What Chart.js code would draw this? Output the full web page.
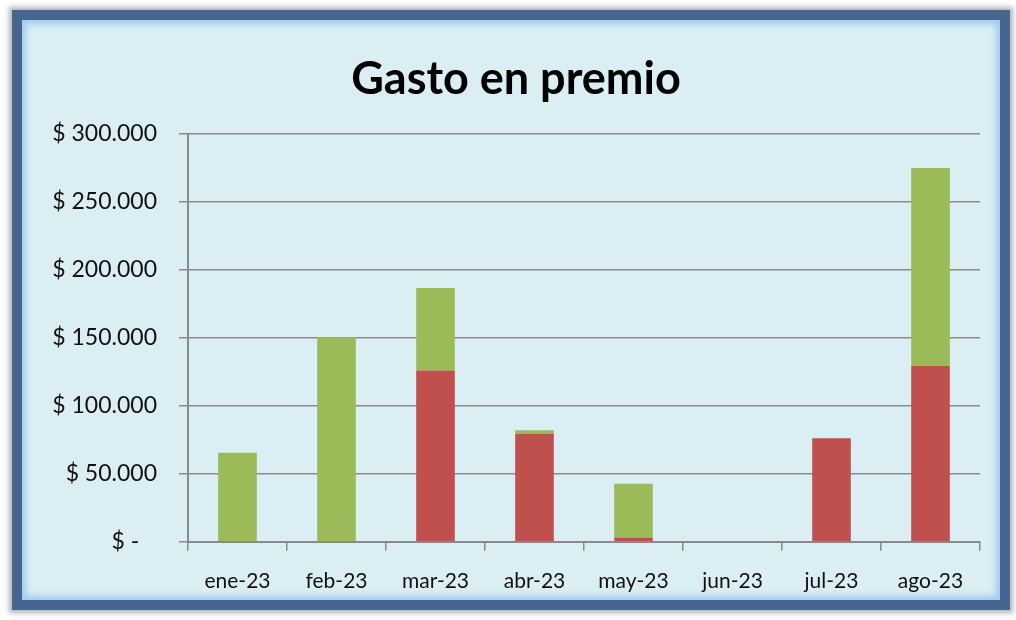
<!DOCTYPE html>
<html>
<head>
<meta charset="utf-8">
<script src="https://cdn.jsdelivr.net/npm/chart.js@4.4.1/dist/chart.umd.min.js"></script>
<style>
  html, body { margin: 0; padding: 0; background: #ffffff; width: 1016px; height: 620px; overflow: hidden; }
  #frame {
    position: absolute; left: 12px; top: 10px; width: 978px; height: 580px;
    border: 10px solid #46658f;
    background: #DAEEF3;
    box-shadow: 0 0 5px 3px rgba(110,120,130,0.55), inset 0 0 6px 4px #9fcbef;
  }
  #wrap { position: absolute; left: 0; top: 0; width: 1016px; height: 620px; }
</style>
</head>
<body>
<div id="frame"></div>
<div id="wrap"><canvas id="c" width="1016" height="620"></canvas></div>
<script>
const categories = ['ene-23', 'feb-23', 'mar-23', 'abr-23', 'may-23', 'jun-23', 'jul-23', 'ago-23'];
const serieRoja = [0, 0, 126000, 79400, 3200, 0, 76200, 129300];
const serieVerde = [65600, 150400, 60800, 2700, 39500, 0, 0, 145600];
const yTicks = [0, 50000, 100000, 150000, 200000, 250000, 300000];

function fmt(v) {
  if (v === 0) return '$ -   ';
  return '$ ' + String(v).replace(/\B(?=(\d{3})+(?!\d))/g, '.');
}

const FONT = 'Lato, "Open Sans", sans-serif';

new Chart(document.getElementById('c'), {
  type: 'bar',
  data: {
    labels: categories,
    datasets: [
      { label: 'Serie 1', data: serieRoja, backgroundColor: '#C0504D', borderWidth: 0 },
      { label: 'Serie 2', data: serieVerde, backgroundColor: '#9BBB59', borderWidth: 0 }
    ]
  },
  options: {
    responsive: false,
    animation: false,
    devicePixelRatio: 1,
    datasets: { bar: { barPercentage: 0.39, categoryPercentage: 1.0 } },
    layout: { padding: { left: 52, right: 36, top: 0, bottom: 8 } },
    plugins: {
      legend: { display: false },
      tooltip: { enabled: false },
      title: {
        display: true,
        text: 'Gasto en premio',
        color: '#000000',
        font: { family: FONT, size: 45, weight: 'bold' },
        padding: { top: 52, bottom: 28 }
      }
    },
    scales: {
      x: {
        stacked: true,
        offset: true,
        grid: { display: true, drawOnChartArea: false, offset: true, color: '#8a8a8a', lineWidth: 1.5, tickLength: 9 },
        border: { display: true, color: '#8a8a8a', width: 2 },
        ticks: { color: '#111111', font: { family: FONT, size: 21 }, padding: 18, maxRotation: 0 }
      },
      y: {
        stacked: true,
        min: 0, max: 300000,
        afterBuildTicks: (s) => { s.ticks = yTicks.map(v => ({ value: v })); },
        grid: { color: '#8a8a8a', lineWidth: 1.5, tickLength: 9 },
        border: { display: true, color: '#8a8a8a', width: 2 },
        ticks: { color: '#111111', font: { family: FONT, size: 23 }, padding: 22, callback: (v) => fmt(v) },
        afterFit: (s) => { s.width = 136; }
      }
    }
  }
});
</script>
</body>
</html>
